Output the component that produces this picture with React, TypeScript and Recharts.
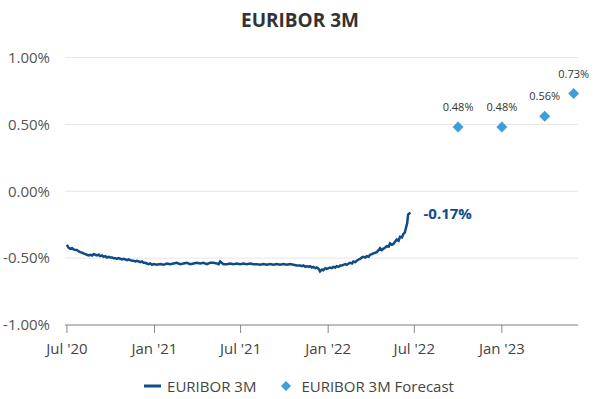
import React from 'react';
import { ComposedChart, Line, Scatter, XAxis, YAxis, CartesianGrid, Legend, LabelList } from 'recharts';

const historyDates: string[] = [
  '2020-07-01','2020-07-04','2020-07-08','2020-07-12','2020-07-15','2020-07-19','2020-07-22','2020-07-26','2020-07-29',
  '2020-08-02','2020-08-05','2020-08-09','2020-08-12','2020-08-16','2020-08-19','2020-08-23','2020-08-26','2020-08-30',
  '2020-09-02','2020-09-06','2020-09-09','2020-09-13','2020-09-16','2020-09-20','2020-09-23','2020-09-27','2020-09-30',
  '2020-10-04','2020-10-07','2020-10-11','2020-10-14','2020-10-18','2020-10-21','2020-10-25','2020-10-28',
  '2020-11-01','2020-11-04','2020-11-08','2020-11-11','2020-11-15','2020-11-18','2020-11-22','2020-11-25','2020-11-29',
  '2020-12-02','2020-12-06','2020-12-09','2020-12-13','2020-12-16','2020-12-20','2020-12-23','2020-12-27','2020-12-30',
  '2021-01-06','2021-01-13','2021-01-20','2021-01-27',
  '2021-02-03','2021-02-10','2021-02-17','2021-02-24',
  '2021-03-03','2021-03-10','2021-03-17','2021-03-24','2021-03-31',
  '2021-04-07','2021-04-14','2021-04-21','2021-04-28',
  '2021-05-05','2021-05-12','2021-05-16','2021-05-19','2021-05-26',
  '2021-06-02','2021-06-09','2021-06-16','2021-06-23','2021-06-30',
  '2021-07-07','2021-07-14','2021-07-21','2021-07-28',
  '2021-08-04','2021-08-11','2021-08-18','2021-08-25',
  '2021-09-01','2021-09-08','2021-09-15','2021-09-22','2021-09-29',
  '2021-10-06','2021-10-13','2021-10-20','2021-10-27',
  '2021-11-03','2021-11-07','2021-11-10','2021-11-14','2021-11-17','2021-11-21','2021-11-24','2021-11-28',
  '2021-12-01','2021-12-05','2021-12-08','2021-12-12','2021-12-15','2021-12-19','2021-12-22','2021-12-26','2021-12-29',
  '2022-01-02','2022-01-05','2022-01-09','2022-01-12','2022-01-16','2022-01-19','2022-01-23','2022-01-26','2022-01-30',
  '2022-02-02','2022-02-06','2022-02-09','2022-02-13','2022-02-16','2022-02-20','2022-02-23','2022-02-27',
  '2022-03-02','2022-03-06','2022-03-09','2022-03-13','2022-03-16','2022-03-20','2022-03-23','2022-03-27','2022-03-30',
  '2022-04-03','2022-04-06','2022-04-10','2022-04-13','2022-04-17','2022-04-20','2022-04-24','2022-04-27',
  '2022-05-01','2022-05-04','2022-05-08','2022-05-11','2022-05-15','2022-05-18','2022-05-22','2022-05-25','2022-05-29',
  '2022-06-01','2022-06-05','2022-06-08','2022-06-11','2022-06-13','2022-06-16','2022-06-18','2022-06-21','2022-06-23',
];

const historyValues: number[] = [
  -0.40, -0.42, -0.43, -0.425, -0.435, -0.44, -0.44, -0.45, -0.455,
  -0.46, -0.465, -0.47, -0.475, -0.48, -0.475, -0.48, -0.47, -0.475,
  -0.48, -0.475, -0.485, -0.48, -0.49, -0.485, -0.495, -0.49, -0.495,
  -0.495, -0.50, -0.50, -0.505, -0.50, -0.505, -0.51, -0.505,
  -0.51, -0.515, -0.51, -0.515, -0.52, -0.52, -0.525, -0.52, -0.525,
  -0.53, -0.525, -0.535, -0.535, -0.54, -0.545, -0.54, -0.55, -0.545,
  -0.55, -0.545, -0.55, -0.54,
  -0.545, -0.54, -0.535, -0.545,
  -0.54, -0.535, -0.545, -0.54, -0.535,
  -0.54, -0.535, -0.545, -0.535,
  -0.535, -0.54, -0.545, -0.525, -0.545,
  -0.545, -0.54, -0.545, -0.54, -0.545,
  -0.54, -0.545, -0.54, -0.545,
  -0.545, -0.55, -0.545, -0.55,
  -0.545, -0.55, -0.545, -0.55, -0.545,
  -0.55, -0.545, -0.55, -0.555,
  -0.555, -0.56, -0.555, -0.565, -0.56, -0.565, -0.56, -0.57,
  -0.565, -0.575, -0.57, -0.58, -0.60, -0.585, -0.59, -0.575, -0.58,
  -0.575, -0.57, -0.575, -0.565, -0.57, -0.56, -0.565, -0.555, -0.555,
  -0.55, -0.545, -0.55, -0.54, -0.535, -0.54, -0.525, -0.53,
  -0.52, -0.51, -0.505, -0.495, -0.49, -0.495, -0.485, -0.49, -0.475,
  -0.47, -0.465, -0.46, -0.455, -0.44, -0.425, -0.44, -0.43,
  -0.42, -0.41, -0.415, -0.39, -0.40, -0.395, -0.375, -0.36, -0.37,
  -0.34, -0.345, -0.32, -0.31, -0.28, -0.24, -0.175, -0.165, -0.17,
];

const forecastDates: string[] = ['2022-10-01', '2023-01-01', '2023-04-01', '2023-06-01'];
const forecastValues: number[] = [0.48, 0.48, 0.56, 0.73];

const xTickDates: string[] = ['2020-07-01', '2021-01-01', '2021-07-01', '2022-01-01', '2022-07-01', '2023-01-01'];
const xTickLabels: string[] = ["Jul '20", "Jan '21", "Jul '21", "Jan '22", "Jul '22", "Jan '23"];
const yTicks: number[] = [-1, -0.5, 0, 0.5, 1];
const xDomainDates: string[] = ['2020-06-27', '2023-06-10'];

const ts = (d: string) => Date.parse(d + 'T00:00:00Z');

const historyData = historyDates.map((d, i) => ({ t: ts(d), value: historyValues[i] }));
const forecastData = forecastDates.map((d, i) => ({ t: ts(d), value: forecastValues[i] }));
const xTicks = xTickDates.map(ts);
const tickLabelMap = new Map<number, string>(xTicks.map((t, i) => [t, xTickLabels[i]]));

const LINE_COLOR = '#0f4c85';
const DIAMOND_COLOR = '#3d9fd8';
const FONT = "'Open Sans', sans-serif";

const DiamondShape = (props: any) => {
  const { cx, cy, payload } = props;
  const r = 5.5;
  return (
    <g>
      <polygon points={`${cx},${cy - r} ${cx + r},${cy} ${cx},${cy + r} ${cx - r},${cy}`} fill={DIAMOND_COLOR} />
      <text x={cx} y={cy - 16} textAnchor="middle" fontSize={11} fill="#333" fontFamily={FONT}>
        {payload.value.toFixed(2) + '%'}
      </text>
    </g>
  );
};

const lastIndex = historyData.length - 1;
const EndLabel = (props: any) => {
  const { x, y, index, value } = props;
  if (index !== lastIndex) return null;
  return (
    <text x={x + 13} y={y + 5} fontSize={15} fontWeight={700} fill={LINE_COLOR} fontFamily={FONT}>
      {Number(value).toFixed(2) + '%'}
    </text>
  );
};

const LegendContent = (props: any) => {
  const items = props.payload || [];
  return (
    <div style={{ display: 'flex', justifyContent: 'center', alignItems: 'center', fontFamily: FONT, fontSize: 15, color: '#444', paddingLeft: 20, marginTop: 3 }}>
      {items.map((it: any, i: number) => (
        <div key={i} style={{ display: 'flex', alignItems: 'center', marginRight: i === 0 ? 24 : 0 }}>
          {it.type === 'plainline' ? (
            <svg width={17} height={10} style={{ marginRight: 6 }}>
              <line x1={0} y1={5} x2={17} y2={5} stroke={it.color} strokeWidth={3} />
            </svg>
          ) : (
            <svg width={12} height={12} style={{ marginRight: 9 }}>
              <polygon points="6,1 11,6 6,11 1,6" fill={DIAMOND_COLOR} />
            </svg>
          )}
          <span>{it.value}</span>
        </div>
      ))}
    </div>
  );
};

export default function App() {
  return (
    <div style={{ position: 'absolute', left: 0, top: 0, width: 596, height: 399, fontFamily: FONT, background: '#fff' }}>
      <div style={{ position: 'absolute', left: 0, top: 7, width: 596, textAlign: 'center', fontSize: 19, fontWeight: 700, color: '#333', lineHeight: '26px', paddingLeft: 2 }}>
        EURIBOR 3M
      </div>
      <ComposedChart
        width={596}
        height={399}
        margin={{ top: 57.5, right: 18, bottom: 2, left: 0 }}
        style={{ fontFamily: FONT }}
      >
        <CartesianGrid horizontal vertical={false} stroke="#e6e6e6" />
        <XAxis
          type="number"
          dataKey="t"
          domain={xDomainDates.map(ts)}
          ticks={xTicks}
          tickFormatter={(v: number) => tickLabelMap.get(v) ?? ''}
          height={48}
          tickSize={8}
          tickMargin={10}
          stroke="#888"
          tick={{ fill: '#444', fontSize: 15 }}
          interval={0}
        />
        <YAxis
          type="number"
          domain={[-1, 1]}
          ticks={yTicks}
          tickFormatter={(v: number) => v.toFixed(2) + '%'}
          width={65}
          axisLine={false}
          tickLine={false}
          tickMargin={9}
          tick={{ fill: '#555', fontSize: 15 }}
          interval={0}
        />
        <Line
          data={historyData}
          dataKey="value"
          name="EURIBOR 3M"
          stroke={LINE_COLOR}
          strokeWidth={2.5}
          dot={false}
          legendType="plainline"
          isAnimationActive={false}
        >
          <LabelList dataKey="value" content={EndLabel} />
        </Line>
        <Scatter
          data={forecastData}
          dataKey="value"
          name="EURIBOR 3M Forecast"
          fill={DIAMOND_COLOR}
          shape={DiamondShape}
          legendType="diamond"
          isAnimationActive={false}
        />
        <Legend verticalAlign="bottom" height={24} content={LegendContent} />
      </ComposedChart>
    </div>
  );
}
